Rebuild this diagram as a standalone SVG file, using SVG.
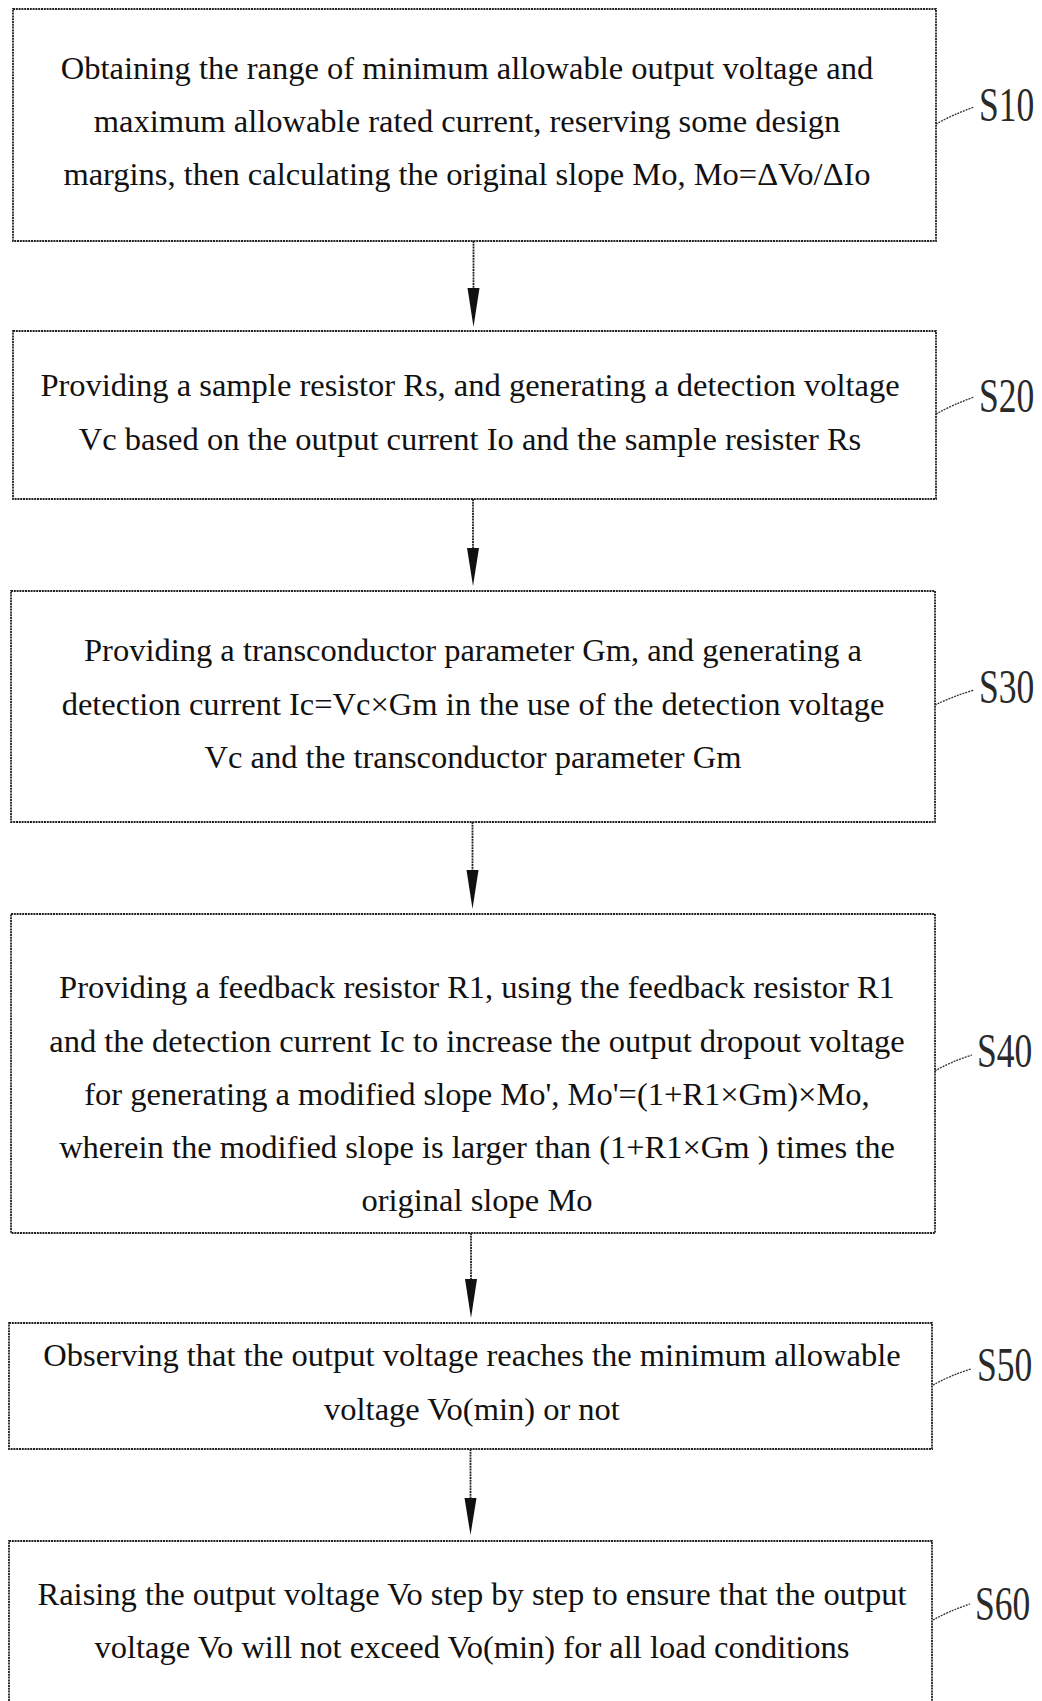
<svg xmlns="http://www.w3.org/2000/svg" width="1042" height="1701" viewBox="0 0 1042 1701">
<style>
.box{fill:#fff;stroke:#222;stroke-width:1.8;stroke-dasharray:2 0.8}
.t{font-family:"Liberation Serif","Times New Roman",serif;font-size:32.5px;fill:#111;text-anchor:middle}
.lbl{font-family:"Liberation Serif","Times New Roman",serif;font-size:35.5px;fill:#2a2a2a}
.lead{fill:none;stroke:#333;stroke-width:1.3;stroke-dasharray:2 1}
.conn{stroke:#222;stroke-width:1.8;stroke-dasharray:2 0.8}
.head{fill:#111}
</style>
<rect width="1042" height="1701" fill="#fff"/>
<g id="connectors">
<line class="conn" x1="473.5" y1="241" x2="473.5" y2="300"/>
<path class="head" d="M467.5 288 L479.5 288 L473.5 327 Z"/>
<line class="conn" x1="473" y1="499" x2="473" y2="560"/>
<path class="head" d="M467 548 L479 548 L473 586 Z"/>
<line class="conn" x1="472.5" y1="822" x2="472.5" y2="880"/>
<path class="head" d="M466.5 870 L478.5 870 L472.5 909 Z"/>
<line class="conn" x1="471" y1="1233" x2="471" y2="1290"/>
<path class="head" d="M465 1279 L477 1279 L471 1318 Z"/>
<line class="conn" x1="470.5" y1="1449" x2="470.5" y2="1510"/>
<path class="head" d="M464.5 1498 L476.5 1498 L470.5 1535 Z"/>
</g>
<g id="S10">
<rect class="box" x="13" y="9" width="923" height="232"/>
<text class="t" x="467" y="79">Obtaining the range of minimum allowable output voltage and</text>
<text class="t" x="467" y="132">maximum allowable rated current, reserving some design</text>
<text class="t" x="467" y="185">margins, then calculating the original slope Mo, Mo=ΔVo/ΔIo</text>
<path class="lead" d="M936 124 Q952 115 974 107"/>
<text class="lbl" transform="translate(979 121) scale(1 1.38)">S10</text>
</g>
<g id="S20">
<rect class="box" x="13" y="331" width="923" height="168"/>
<text class="t" x="470" y="396">Providing a sample resistor Rs, and generating a detection voltage</text>
<text class="t" x="470" y="450">Vc based on the output current Io and the sample resister Rs</text>
<path class="lead" d="M936 414 Q952 405 974 397"/>
<text class="lbl" transform="translate(979 412) scale(1 1.38)">S20</text>
</g>
<g id="S30">
<rect class="box" x="11" y="591" width="924" height="231"/>
<text class="t" x="473" y="661">Providing a transconductor parameter Gm, and generating a</text>
<text class="t" x="473" y="715">detection current Ic=Vc×Gm in the use of the detection voltage</text>
<text class="t" x="473" y="768">Vc and the transconductor parameter Gm</text>
<path class="lead" d="M935 705 Q951 697 974 690"/>
<text class="lbl" transform="translate(979 703) scale(1 1.38)">S30</text>
</g>
<g id="S40">
<rect class="box" x="11" y="914" width="924" height="319"/>
<text class="t" x="477" y="998">Providing a feedback resistor R1, using the feedback resistor R1</text>
<text class="t" x="477" y="1052">and the detection current Ic to increase the output dropout voltage</text>
<text class="t" x="477" y="1105">for generating a modified slope Mo', Mo'=(1+R1×Gm)×Mo,</text>
<text class="t" x="477" y="1158">wherein the modified slope is larger than (1+R1×Gm ) times the</text>
<text class="t" x="477" y="1211">original slope Mo</text>
<path class="lead" d="M935 1071 Q950 1062 972 1055"/>
<text class="lbl" transform="translate(977 1067) scale(1 1.38)">S40</text>
</g>
<g id="S50">
<rect class="box" x="9" y="1323" width="923" height="126"/>
<text class="t" x="472" y="1366">Observing that the output voltage reaches the minimum allowable</text>
<text class="t" x="472" y="1420">voltage Vo(min) or not</text>
<path class="lead" d="M933 1385 Q949 1376 971 1369"/>
<text class="lbl" transform="translate(977 1381) scale(1 1.38)">S50</text>
</g>
<g id="S60">
<rect class="box" x="9" y="1541" width="923" height="200"/>
<text class="t" x="472" y="1605">Raising the output voltage Vo step by step to ensure that the output</text>
<text class="t" x="472" y="1658">voltage Vo will not exceed Vo(min) for all load conditions</text>
<path class="lead" d="M933 1620 Q949 1611 970 1604"/>
<text class="lbl" transform="translate(975 1620) scale(1 1.38)">S60</text>
</g>
</svg>
